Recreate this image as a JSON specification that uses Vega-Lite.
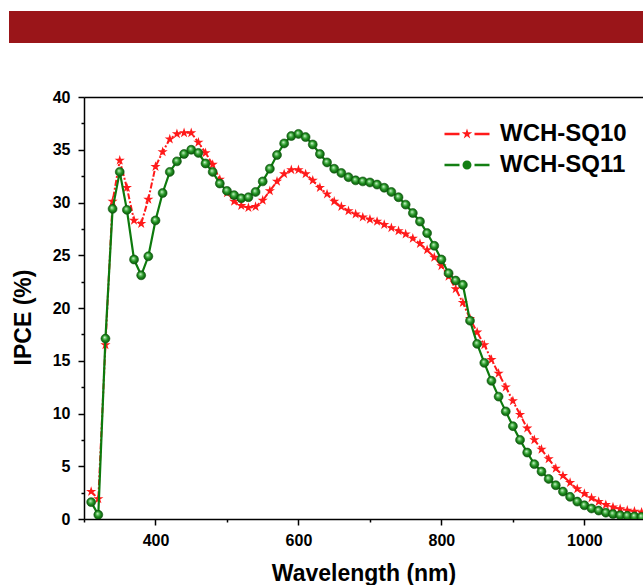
{
  "$schema": "https://vega.github.io/schema/vega-lite/v6.json",
  "background": "white",
  "padding": {"left": 9, "top": 11, "right": 0, "bottom": 0},
  "config": {
    "font": "Liberation Sans",
    "view": {"stroke": null},
    "axis": {"grid": false, "domainColor": "black", "domainWidth": 1.5, "tickColor": "black", "tickWidth": 1.5, "labelColor": "black", "titleColor": "black", "labelFont": "Liberation Sans", "titleFont": "Liberation Sans", "labelFontWeight": "bold", "titleFontWeight": "bold", "labelFontSize": 16, "titleFontSize": 23}
  },
  "spacing": 46,
  "columns": 1,
  "datasets": {
    "ipce": [
      {"nm": 310, "ipce": 2.6, "s": "WCH-SQ10"}, {"nm": 320, "ipce": 1.9, "s": "WCH-SQ10"}, {"nm": 330, "ipce": 16.5, "s": "WCH-SQ10"}, {"nm": 340, "ipce": 30.1, "s": "WCH-SQ10"}, {"nm": 350, "ipce": 34.0, "s": "WCH-SQ10"}, {"nm": 360, "ipce": 31.4, "s": "WCH-SQ10"}, {"nm": 370, "ipce": 28.3, "s": "WCH-SQ10"}, {"nm": 380, "ipce": 28.0, "s": "WCH-SQ10"}, {"nm": 390, "ipce": 30.3, "s": "WCH-SQ10"}, {"nm": 400, "ipce": 33.4, "s": "WCH-SQ10"},
      {"nm": 410, "ipce": 34.8, "s": "WCH-SQ10"}, {"nm": 420, "ipce": 36.0, "s": "WCH-SQ10"}, {"nm": 430, "ipce": 36.5, "s": "WCH-SQ10"}, {"nm": 440, "ipce": 36.6, "s": "WCH-SQ10"}, {"nm": 450, "ipce": 36.6, "s": "WCH-SQ10"}, {"nm": 460, "ipce": 35.7, "s": "WCH-SQ10"}, {"nm": 470, "ipce": 34.7, "s": "WCH-SQ10"}, {"nm": 480, "ipce": 33.6, "s": "WCH-SQ10"}, {"nm": 490, "ipce": 32.2, "s": "WCH-SQ10"}, {"nm": 500, "ipce": 30.9, "s": "WCH-SQ10"},
      {"nm": 510, "ipce": 30.1, "s": "WCH-SQ10"}, {"nm": 520, "ipce": 29.7, "s": "WCH-SQ10"}, {"nm": 530, "ipce": 29.5, "s": "WCH-SQ10"}, {"nm": 540, "ipce": 29.6, "s": "WCH-SQ10"}, {"nm": 550, "ipce": 30.2, "s": "WCH-SQ10"}, {"nm": 560, "ipce": 31.1, "s": "WCH-SQ10"}, {"nm": 570, "ipce": 32.0, "s": "WCH-SQ10"}, {"nm": 580, "ipce": 32.7, "s": "WCH-SQ10"}, {"nm": 590, "ipce": 33.1, "s": "WCH-SQ10"}, {"nm": 600, "ipce": 33.1, "s": "WCH-SQ10"},
      {"nm": 610, "ipce": 32.7, "s": "WCH-SQ10"}, {"nm": 620, "ipce": 32.1, "s": "WCH-SQ10"}, {"nm": 630, "ipce": 31.4, "s": "WCH-SQ10"}, {"nm": 640, "ipce": 30.8, "s": "WCH-SQ10"}, {"nm": 650, "ipce": 30.1, "s": "WCH-SQ10"}, {"nm": 660, "ipce": 29.6, "s": "WCH-SQ10"}, {"nm": 670, "ipce": 29.2, "s": "WCH-SQ10"}, {"nm": 680, "ipce": 28.9, "s": "WCH-SQ10"}, {"nm": 690, "ipce": 28.6, "s": "WCH-SQ10"}, {"nm": 700, "ipce": 28.4, "s": "WCH-SQ10"},
      {"nm": 710, "ipce": 28.2, "s": "WCH-SQ10"}, {"nm": 720, "ipce": 27.9, "s": "WCH-SQ10"}, {"nm": 730, "ipce": 27.6, "s": "WCH-SQ10"}, {"nm": 740, "ipce": 27.3, "s": "WCH-SQ10"}, {"nm": 750, "ipce": 27.0, "s": "WCH-SQ10"}, {"nm": 760, "ipce": 26.6, "s": "WCH-SQ10"}, {"nm": 770, "ipce": 26.1, "s": "WCH-SQ10"}, {"nm": 780, "ipce": 25.5, "s": "WCH-SQ10"}, {"nm": 790, "ipce": 24.8, "s": "WCH-SQ10"}, {"nm": 800, "ipce": 24.0, "s": "WCH-SQ10"},
      {"nm": 810, "ipce": 23.0, "s": "WCH-SQ10"}, {"nm": 820, "ipce": 21.8, "s": "WCH-SQ10"}, {"nm": 830, "ipce": 20.5, "s": "WCH-SQ10"}, {"nm": 840, "ipce": 19.0, "s": "WCH-SQ10"}, {"nm": 850, "ipce": 17.7, "s": "WCH-SQ10"}, {"nm": 860, "ipce": 16.5, "s": "WCH-SQ10"}, {"nm": 870, "ipce": 15.1, "s": "WCH-SQ10"}, {"nm": 880, "ipce": 13.8, "s": "WCH-SQ10"}, {"nm": 890, "ipce": 12.5, "s": "WCH-SQ10"}, {"nm": 900, "ipce": 11.2, "s": "WCH-SQ10"},
      {"nm": 910, "ipce": 9.9, "s": "WCH-SQ10"}, {"nm": 920, "ipce": 8.6, "s": "WCH-SQ10"}, {"nm": 930, "ipce": 7.5, "s": "WCH-SQ10"}, {"nm": 940, "ipce": 6.6, "s": "WCH-SQ10"}, {"nm": 950, "ipce": 5.7, "s": "WCH-SQ10"}, {"nm": 960, "ipce": 4.8, "s": "WCH-SQ10"}, {"nm": 970, "ipce": 4.1, "s": "WCH-SQ10"}, {"nm": 980, "ipce": 3.45, "s": "WCH-SQ10"}, {"nm": 990, "ipce": 2.85, "s": "WCH-SQ10"}, {"nm": 1000, "ipce": 2.4, "s": "WCH-SQ10"},
      {"nm": 1010, "ipce": 2.0, "s": "WCH-SQ10"}, {"nm": 1020, "ipce": 1.65, "s": "WCH-SQ10"}, {"nm": 1030, "ipce": 1.35, "s": "WCH-SQ10"}, {"nm": 1040, "ipce": 1.12, "s": "WCH-SQ10"}, {"nm": 1050, "ipce": 0.96, "s": "WCH-SQ10"}, {"nm": 1060, "ipce": 0.82, "s": "WCH-SQ10"}, {"nm": 1070, "ipce": 0.73, "s": "WCH-SQ10"}, {"nm": 1080, "ipce": 0.64, "s": "WCH-SQ10"},
      {"nm": 310, "ipce": 1.6, "s": "WCH-SQ11"}, {"nm": 320, "ipce": 0.4, "s": "WCH-SQ11"}, {"nm": 330, "ipce": 17.1, "s": "WCH-SQ11"}, {"nm": 340, "ipce": 29.4, "s": "WCH-SQ11"}, {"nm": 350, "ipce": 32.9, "s": "WCH-SQ11"}, {"nm": 360, "ipce": 29.3, "s": "WCH-SQ11"}, {"nm": 370, "ipce": 24.6, "s": "WCH-SQ11"}, {"nm": 380, "ipce": 23.1, "s": "WCH-SQ11"}, {"nm": 390, "ipce": 24.9, "s": "WCH-SQ11"}, {"nm": 400, "ipce": 28.3, "s": "WCH-SQ11"},
      {"nm": 410, "ipce": 30.9, "s": "WCH-SQ11"}, {"nm": 420, "ipce": 32.9, "s": "WCH-SQ11"}, {"nm": 430, "ipce": 33.9, "s": "WCH-SQ11"}, {"nm": 440, "ipce": 34.6, "s": "WCH-SQ11"}, {"nm": 450, "ipce": 35.0, "s": "WCH-SQ11"}, {"nm": 460, "ipce": 34.7, "s": "WCH-SQ11"}, {"nm": 470, "ipce": 33.7, "s": "WCH-SQ11"}, {"nm": 480, "ipce": 32.9, "s": "WCH-SQ11"}, {"nm": 490, "ipce": 31.8, "s": "WCH-SQ11"}, {"nm": 500, "ipce": 31.1, "s": "WCH-SQ11"},
      {"nm": 510, "ipce": 30.7, "s": "WCH-SQ11"}, {"nm": 520, "ipce": 30.4, "s": "WCH-SQ11"}, {"nm": 530, "ipce": 30.5, "s": "WCH-SQ11"}, {"nm": 540, "ipce": 31.0, "s": "WCH-SQ11"}, {"nm": 550, "ipce": 32.0, "s": "WCH-SQ11"}, {"nm": 560, "ipce": 33.2, "s": "WCH-SQ11"}, {"nm": 570, "ipce": 34.5, "s": "WCH-SQ11"}, {"nm": 580, "ipce": 35.6, "s": "WCH-SQ11"}, {"nm": 590, "ipce": 36.3, "s": "WCH-SQ11"}, {"nm": 600, "ipce": 36.5, "s": "WCH-SQ11"},
      {"nm": 610, "ipce": 36.2, "s": "WCH-SQ11"}, {"nm": 620, "ipce": 35.5, "s": "WCH-SQ11"}, {"nm": 630, "ipce": 34.6, "s": "WCH-SQ11"}, {"nm": 640, "ipce": 33.8, "s": "WCH-SQ11"}, {"nm": 650, "ipce": 33.2, "s": "WCH-SQ11"}, {"nm": 660, "ipce": 32.8, "s": "WCH-SQ11"}, {"nm": 670, "ipce": 32.4, "s": "WCH-SQ11"}, {"nm": 680, "ipce": 32.1, "s": "WCH-SQ11"}, {"nm": 690, "ipce": 32.0, "s": "WCH-SQ11"}, {"nm": 700, "ipce": 31.9, "s": "WCH-SQ11"},
      {"nm": 710, "ipce": 31.7, "s": "WCH-SQ11"}, {"nm": 720, "ipce": 31.4, "s": "WCH-SQ11"}, {"nm": 730, "ipce": 31.0, "s": "WCH-SQ11"}, {"nm": 740, "ipce": 30.5, "s": "WCH-SQ11"}, {"nm": 750, "ipce": 29.8, "s": "WCH-SQ11"}, {"nm": 760, "ipce": 29.0, "s": "WCH-SQ11"}, {"nm": 770, "ipce": 28.2, "s": "WCH-SQ11"}, {"nm": 780, "ipce": 27.1, "s": "WCH-SQ11"}, {"nm": 790, "ipce": 25.9, "s": "WCH-SQ11"}, {"nm": 800, "ipce": 24.6, "s": "WCH-SQ11"},
      {"nm": 810, "ipce": 23.3, "s": "WCH-SQ11"}, {"nm": 820, "ipce": 22.6, "s": "WCH-SQ11"}, {"nm": 830, "ipce": 22.2, "s": "WCH-SQ11"}, {"nm": 840, "ipce": 18.8, "s": "WCH-SQ11"}, {"nm": 850, "ipce": 16.6, "s": "WCH-SQ11"}, {"nm": 860, "ipce": 14.8, "s": "WCH-SQ11"}, {"nm": 870, "ipce": 13.1, "s": "WCH-SQ11"}, {"nm": 880, "ipce": 11.6, "s": "WCH-SQ11"}, {"nm": 890, "ipce": 10.2, "s": "WCH-SQ11"}, {"nm": 900, "ipce": 8.8, "s": "WCH-SQ11"},
      {"nm": 910, "ipce": 7.5, "s": "WCH-SQ11"}, {"nm": 920, "ipce": 6.3, "s": "WCH-SQ11"}, {"nm": 930, "ipce": 5.2, "s": "WCH-SQ11"}, {"nm": 940, "ipce": 4.5, "s": "WCH-SQ11"}, {"nm": 950, "ipce": 3.8, "s": "WCH-SQ11"}, {"nm": 960, "ipce": 3.2, "s": "WCH-SQ11"}, {"nm": 970, "ipce": 2.6, "s": "WCH-SQ11"}, {"nm": 980, "ipce": 2.1, "s": "WCH-SQ11"}, {"nm": 990, "ipce": 1.65, "s": "WCH-SQ11"}, {"nm": 1000, "ipce": 1.3, "s": "WCH-SQ11"},
      {"nm": 1010, "ipce": 1.0, "s": "WCH-SQ11"}, {"nm": 1020, "ipce": 0.8, "s": "WCH-SQ11"}, {"nm": 1030, "ipce": 0.6, "s": "WCH-SQ11"}, {"nm": 1040, "ipce": 0.47, "s": "WCH-SQ11"}, {"nm": 1050, "ipce": 0.36, "s": "WCH-SQ11"}, {"nm": 1060, "ipce": 0.3, "s": "WCH-SQ11"}, {"nm": 1070, "ipce": 0.25, "s": "WCH-SQ11"}, {"nm": 1080, "ipce": 0.2, "s": "WCH-SQ11"}
    ]
  },
  "concat": [
    {
      "width": 634,
      "height": 32,
      "view": {"fill": "#9A1519", "stroke": null},
      "data": {"values": [{"k": 1}]},
      "mark": {"type": "text", "text": " "}
    },
    {
      "width": 634,
      "height": 422,
      "data": {"name": "ipce"},
      "layer": [
        {
          "encoding": {
            "x": {
              "field": "nm", "type": "quantitative",
              "scale": {"domain": [300, 1082], "range": [75, 634], "nice": false, "zero": false},
              "axis": {
                "orient": "bottom",
                "title": "Wavelength (nm)",
                "values": [300, 400, 500, 600, 700, 800, 900, 1000],
                "format": "d",
                "labelExpr": "datum.value % 200 === 0 ? datum.label : ''",
                "tickSize": {"condition": {"test": "datum.value % 200 === 0", "value": 6}, "value": 3},
                "labelPadding": 7,
                "titlePadding": 14
              }
            },
            "y": {
              "field": "ipce", "type": "quantitative",
              "scale": {"domain": [0, 40], "nice": false},
              "axis": {
                "title": "IPCE (%)",
                "offset": -75,
                "values": [0, 2.5, 5, 7.5, 10, 12.5, 15, 17.5, 20, 22.5, 25, 27.5, 30, 32.5, 35, 37.5, 40],
                "labelExpr": "datum.value % 5 === 0 ? datum.label : ''",
                "tickSize": {"condition": {"test": "datum.value % 5 === 0", "value": 6}, "value": 3},
                "labelPadding": 8,
                "titlePadding": 17,
                "titleY": 220
              }
            }
          },
          "layer": [
            {
              "transform": [{"filter": "datum.s === 'WCH-SQ10'"}],
              "mark": {"type": "line", "color": "#ff1a1a", "strokeWidth": 2, "strokeDash": [6, 2, 2, 2], "clip": true}
            },
            {
              "transform": [{"filter": "datum.s === 'WCH-SQ10'"}],
              "mark": {"type": "point", "shape": "M0,-1L0.224,-0.309L0.951,-0.309L0.363,0.118L0.588,0.809L0,0.382L-0.588,0.809L-0.363,0.118L-0.951,-0.309L-0.224,-0.309Z", "filled": true, "color": "#ff1a1a", "size": 115, "opacity": 1, "clip": true}
            },
            {
              "transform": [{"filter": "datum.s === 'WCH-SQ11'"}],
              "mark": {"type": "line", "color": "#0d7a0d", "strokeWidth": 2.2, "clip": true}
            },
            {
              "transform": [{"filter": "datum.s === 'WCH-SQ11'"}],
              "mark": {
                "type": "point", "shape": "circle", "filled": true, "size": 80, "opacity": 1, "clip": true,
                "stroke": "#0a520a", "strokeWidth": 0.6,
                "fill": {"gradient": "radial", "x1": 0.4, "y1": 0.35, "r1": 0, "x2": 0.5, "y2": 0.5, "r2": 0.55,
                  "stops": [{"offset": 0, "color": "#f0fff0"}, {"offset": 0.22, "color": "#7fd07f"}, {"offset": 0.55, "color": "#1f8f1f"}, {"offset": 1, "color": "#0a4f0a"}]}
              }
            }
          ]
        },
        {
          "transform": [{"filter": "datum.nm < 0"}],
          "mark": {"type": "point", "filled": true, "opacity": 1, "size": 100},
          "encoding": {
            "x": {
              "field": "nm", "type": "quantitative",
              "axis": {"orient": "top", "labels": false, "ticks": false, "title": null, "domain": true}
            },
            "color": {
              "field": "s", "type": "nominal",
              "scale": {"domain": ["WCH-SQ10", "WCH-SQ11"], "range": ["#ff1a1a", "#137f13"]},
              "legend": {
                "title": null, "orient": "none", "legendX": 446, "legendY": 111,
                "labelFontSize": 24, "labelFontWeight": "bold", "labelColor": "black", "labelFont": "Liberation Sans",
                "symbolSize": 100, "labelOffset": 21, "rowPadding": 7, "padding": 0, "symbolStrokeWidth": 0, "symbolOpacity": 1
              }
            },
            "shape": {
              "field": "s", "type": "nominal",
              "scale": {"domain": ["WCH-SQ10", "WCH-SQ11"], "range": [
                "M-4.5,-0.24H-1.5V0.24H-4.5Z M1.5,-0.24H4.5V0.24H1.5Z M0,-1.1L0.245,-0.338L1.046,-0.34L0.397,0.129L0.647,0.89L0,0.418L-0.647,0.89L-0.397,0.129L-1.046,-0.34L-0.245,-0.338Z",
                "M-4.5,-0.24H-1.5V0.24H-4.5Z M1.5,-0.24H4.5V0.24H1.5Z M-0.9,0A0.9,0.9 0 1,0 0.9,0A0.9,0.9 0 1,0 -0.9,0Z"
              ]}
            }
          }
        }
      ],
      "resolve": {"axis": {"x": "independent"}}
    }
  ]
}
